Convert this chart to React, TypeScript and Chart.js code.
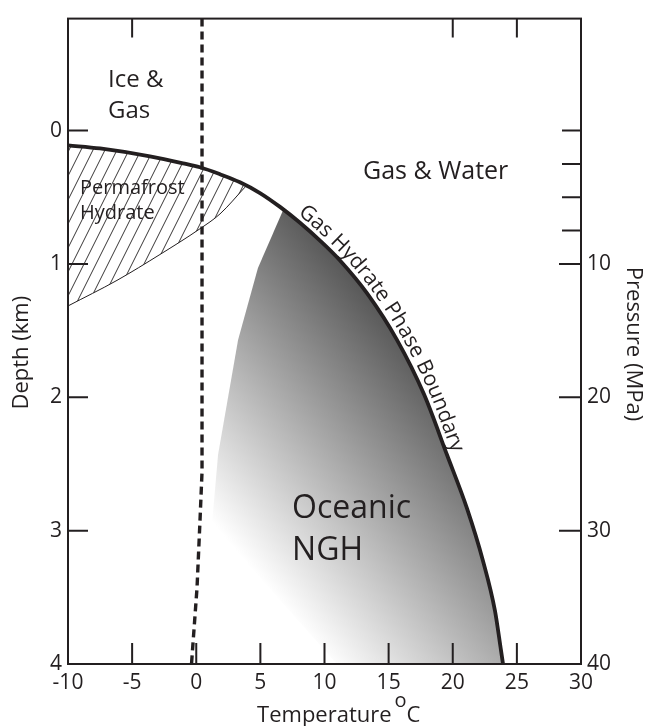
import React, { useEffect, useRef } from 'react';
import { Chart, registerables } from 'chart.js';

Chart.register(...registerables);

// ---------------- data ----------------
const tempMin = -10;
const tempMax = 30;
const depthMin = -0.84;
const depthMax = 4;
const pressurePerKm = 10;

const tempTicks = [-10, -5, 0, 5, 10, 15, 20, 25, 30];
const tempTopTicks = [-5, 20, 25];
const depthTicks = [0, 1, 2, 3, 4];
const pressureTicks = [10, 20, 30, 40];
const pressureMinorTicks = [0, 2.5, 5, 7.5];

// Gas hydrate phase boundary: temperature (°C) vs depth (km)
const boundaryT = [-10, -7.5, -3.61, -1.03, 0.29, 1.85, 3.41, 4.97, 6.53, 8.09, 9.65, 11.21, 13.31, 15.65, 17.76, 19.55, 21.11, 22.36, 23.29, 23.76, 23.92];
const boundaryD = [0.11, 0.134, 0.193, 0.245, 0.275, 0.327, 0.387, 0.468, 0.572, 0.691, 0.825, 0.974, 1.219, 1.569, 1.978, 2.431, 2.833, 3.227, 3.599, 3.896, 4.0];

// Base of permafrost hydrate zone
const permafrostBaseT = [-10, -6.18, -2.83, 0.29, 1.85, 3.8];
const permafrostBaseD = [1.315, 1.123, 0.929, 0.736, 0.625, 0.424];

// 0 °C (ice) line
const freezingT = [0.45, 0.45, 0.29, 0.06, -0.25, -0.37];
const freezingD = [-0.84, 2.56, 2.93, 3.43, 3.84, 4.0];

// Left / lower edge of the oceanic NGH zone
const oceanicEdgeT = [6.76, 4.81, 3.26, 1.7, 1.23, 10.97];
const oceanicEdgeD = [0.6, 1.03, 1.57, 2.43, 2.95, 4.0];

const boundaryLabel = 'Gas Hydrate Phase Boundary';

// ---------------- styles / layout ----------------
const FONT = "'Open Sans', 'DejaVu Sans', sans-serif";
const INK = '#231f20';
const W = 647;
const H = 726;

const shadeDark = { t: 8.64, d: 0.617, color: '#555555' };
const shadeLight = { t: -7.58, d: 1.92, color: '#ffffff' };

const regionLabels = [
  { lines: ['Ice &', 'Gas'], t: -6.88, d: [-0.327, -0.097], size: 24 },
  { lines: ['Gas & Water'], t: 13.0, d: [0.364], size: 25 },
  { lines: ['Permafrost', 'Hydrate'], t: -9.06, d: [0.476, 0.662], size: 20 },
  { lines: ['Oceanic', 'NGH'], t: 7.47, d: [2.907, 3.219], size: 32 },
];

const boundaryLabelStartT = 7.6;
const boundaryLabelOffset = 5.5;
const boundaryLabelSize = 21;

const pts = (xs: number[], ys: number[]) => xs.map((x, i) => ({ x, y: ys[i] }));

function makeHatch(): CanvasPattern | string {
  const pc = document.createElement('canvas');
  pc.width = 12;
  pc.height = 24;
  const g = pc.getContext('2d');
  if (!g) return 'rgba(0,0,0,0)';
  g.strokeStyle = INK;
  g.lineWidth = 0.9;
  for (const c of [0, 24, 48]) {
    g.beginPath();
    g.moveTo((c - 26) / 2, 26);
    g.lineTo((c + 2) / 2, -2);
    g.stroke();
  }
  const p = g.createPattern(pc, 'repeat');
  return p || 'rgba(0,0,0,0)';
}

const decorPlugin = {
  id: 'phaseDecor',
  afterDatasetsDraw(chart: any) {
    const { ctx, chartArea: a, scales } = chart;
    const xs = scales.x;
    const ys = scales.y;
    const ps = scales.y2;
    ctx.save();
    ctx.strokeStyle = INK;
    ctx.fillStyle = INK;
    ctx.lineCap = 'butt';
    ctx.lineWidth = 2;

    // inward tick marks
    ctx.beginPath();
    for (const t of tempTicks) {
      if (t === tempMin || t === tempMax) continue;
      const px = xs.getPixelForValue(t);
      ctx.moveTo(px, a.bottom);
      ctx.lineTo(px, a.bottom - 21);
    }
    for (const t of tempTopTicks) {
      const px = xs.getPixelForValue(t);
      ctx.moveTo(px, a.top);
      ctx.lineTo(px, a.top + 19);
    }
    for (const d of depthTicks) {
      if (d === depthMax) continue;
      const py = ys.getPixelForValue(d);
      ctx.moveTo(a.left, py);
      ctx.lineTo(a.left + 20, py);
    }
    for (const p of pressureTicks) {
      if (p === depthMax * pressurePerKm) continue;
      const py = ps.getPixelForValue(p);
      ctx.moveTo(a.right, py);
      ctx.lineTo(a.right - 22, py);
    }
    for (const p of pressureMinorTicks) {
      const py = ps.getPixelForValue(p);
      ctx.moveTo(a.right, py);
      ctx.lineTo(a.right - 19, py);
    }
    ctx.stroke();

    // frame
    ctx.strokeRect(a.left, a.top, a.right - a.left, a.bottom - a.top);

    // region labels
    ctx.textAlign = 'left';
    ctx.textBaseline = 'alphabetic';
    for (const lab of regionLabels) {
      ctx.font = `${lab.size}px ${FONT}`;
      lab.lines.forEach((line, i) => {
        ctx.fillText(line, xs.getPixelForValue(lab.t), ys.getPixelForValue(lab.d[i]));
      });
    }

    // curved label along the phase boundary (follows the drawn curve)
    const meta = chart.getDatasetMeta(0);
    const el = meta.data as any[];
    const path: { x: number; y: number }[] = [];
    for (let i = 0; i < el.length - 1; i++) {
      const p0 = el[i];
      const p1 = el[i + 1];
      const c1x = p0.cp2x ?? p0.x;
      const c1y = p0.cp2y ?? p0.y;
      const c2x = p1.cp1x ?? p1.x;
      const c2y = p1.cp1y ?? p1.y;
      const N = 24;
      for (let k = 0; k < N; k++) {
        const t = k / N;
        const u = 1 - t;
        path.push({
          x: u * u * u * p0.x + 3 * u * u * t * c1x + 3 * u * t * t * c2x + t * t * t * p1.x,
          y: u * u * u * p0.y + 3 * u * u * t * c1y + 3 * u * t * t * c2y + t * t * t * p1.y,
        });
      }
    }
    const last = el[el.length - 1];
    path.push({ x: last.x, y: last.y });
    const cum = [0];
    for (let i = 1; i < path.length; i++) {
      cum.push(cum[i - 1] + Math.hypot(path[i].x - path[i - 1].x, path[i].y - path[i - 1].y));
    }
    const startPx = xs.getPixelForValue(boundaryLabelStartT);
    let startIdx = path.findIndex((p) => p.x >= startPx);
    if (startIdx < 0) startIdx = 0;
    let s = cum[startIdx];
    const at = (sv: number) => {
      let j = 0;
      while (j < cum.length - 2 && cum[j + 1] < sv) j++;
      const seg = cum[j + 1] - cum[j] || 1;
      const f = (sv - cum[j]) / seg;
      const dx = path[j + 1].x - path[j].x;
      const dy = path[j + 1].y - path[j].y;
      return { x: path[j].x + dx * f, y: path[j].y + dy * f, ang: Math.atan2(dy, dx) };
    };
    ctx.font = `${boundaryLabelSize}px ${FONT}`;
    ctx.textAlign = 'center';
    for (const ch of boundaryLabel) {
      const w = ctx.measureText(ch).width;
      const p = at(s + w / 2);
      ctx.save();
      ctx.translate(p.x, p.y);
      ctx.rotate(p.ang);
      ctx.fillText(ch, 0, -boundaryLabelOffset);
      ctx.restore();
      s += w;
    }

    // axis titles
    ctx.font = `22px ${FONT}`;
    ctx.textAlign = 'center';
    ctx.save();
    ctx.translate(a.left - 40.5, ys.getPixelForValue(1.665));
    ctx.rotate(-Math.PI / 2);
    ctx.fillText('Depth (km)', 0, 0);
    ctx.restore();

    ctx.save();
    ctx.translate(a.right + 46, ps.getPixelForValue(16.0));
    ctx.rotate(Math.PI / 2);
    ctx.fillText('Pressure (MPa)', 0, 0);
    ctx.restore();

    ctx.textAlign = 'left';
    const tx = xs.getPixelForValue(4.74);
    const ty = a.bottom + 58;
    ctx.font = `22px ${FONT}`;
    ctx.fillText('Temperature', tx, ty);
    let cx = tx + ctx.measureText('Temperature').width + 3;
    ctx.font = `20px ${FONT}`;
    ctx.fillText('o', cx, ty - 15);
    cx += ctx.measureText('o').width;
    ctx.font = `22px ${FONT}`;
    ctx.fillText('C', cx, ty);

    ctx.restore();
  },
};

export default function App() {
  const ref = useRef<HTMLCanvasElement | null>(null);

  useEffect(() => {
    if (!ref.current) return;
    const hatch = makeHatch();

    const boundaryPts = pts(boundaryT, boundaryD);
    const oceanicPts = [
      ...pts(oceanicEdgeT, oceanicEdgeD),
      ...boundaryPts.filter((p) => p.x > oceanicEdgeT[0]).reverse(),
    ];

    const tickFont = { family: FONT, size: 21 };

    const chart = new Chart(ref.current, {
      type: 'line',
      data: {
        datasets: [
          {
            label: 'Gas hydrate phase boundary',
            data: boundaryPts,
            borderColor: INK,
            borderWidth: 3.8,
            cubicInterpolationMode: 'monotone',
            pointRadius: 0,
            fill: false,
            order: 1,
          },
          {
            label: 'Permafrost hydrate base',
            data: pts(permafrostBaseT, permafrostBaseD),
            borderColor: INK,
            borderWidth: 1,
            cubicInterpolationMode: 'monotone',
            pointRadius: 0,
            backgroundColor: hatch as any,
            fill: { target: 0, above: hatch as any, below: hatch as any },
            order: 3,
          },
          {
            label: '0 °C',
            data: pts(freezingT, freezingD),
            borderColor: INK,
            borderWidth: 3.4,
            borderDash: [8, 5],
            tension: 0,
            pointRadius: 0,
            fill: false,
            order: 2,
          },
          {
            label: 'Oceanic NGH',
            data: oceanicPts,
            borderColor: 'rgba(0,0,0,0)',
            borderWidth: 0,
            tension: 0,
            pointRadius: 0,
            fill: 'shape',
            backgroundColor: (c: any) => {
              const ch = c.chart;
              const { ctx, chartArea, scales } = ch;
              if (!chartArea || !scales.x || !scales.y) return 'rgba(0,0,0,0)';
              const g = ctx.createLinearGradient(
                scales.x.getPixelForValue(shadeDark.t),
                scales.y.getPixelForValue(shadeDark.d),
                scales.x.getPixelForValue(shadeLight.t),
                scales.y.getPixelForValue(shadeLight.d)
              );
              g.addColorStop(0, shadeDark.color);
              g.addColorStop(1, shadeLight.color);
              return g;
            },
            order: 4,
          },
        ] as any,
      },
      options: {
        animation: false,
        responsive: false,
        devicePixelRatio: 1,
        events: [],
        layout: { autoPadding: false, padding: { top: 13, left: 0, right: 0, bottom: 0 } } as any,
        plugins: { legend: { display: false }, tooltip: { enabled: false }, title: { display: false } },
        scales: {
          x: {
            type: 'linear',
            position: 'bottom',
            min: tempMin,
            max: tempMax,
            afterBuildTicks: (s: any) => {
              s.ticks = tempTicks.map((v) => ({ value: v }));
            },
            afterFit: (s: any) => {
              s.height = 62;
            },
            grid: { display: false, drawTicks: false },
            border: { display: false },
            ticks: {
              font: tickFont,
              color: INK,
              padding: 6,
              maxRotation: 0,
              autoSkip: false,
              callback: (v: any) => String(v),
            },
          },
          y: {
            type: 'linear',
            position: 'left',
            reverse: true,
            min: depthMin,
            max: depthMax,
            afterBuildTicks: (s: any) => {
              s.ticks = depthTicks.map((v) => ({ value: v }));
            },
            afterFit: (s: any) => {
              s.width = 68;
            },
            grid: { display: false, drawTicks: false },
            border: { display: false },
            ticks: { font: tickFont, color: INK, padding: 6, autoSkip: false, callback: (v: any) => String(v) },
          },
          y2: {
            type: 'linear',
            position: 'right',
            reverse: true,
            min: depthMin * pressurePerKm,
            max: depthMax * pressurePerKm,
            afterBuildTicks: (s: any) => {
              s.ticks = pressureTicks.map((v) => ({ value: v }));
            },
            afterFit: (s: any) => {
              s.width = 66;
            },
            grid: { display: false, drawTicks: false },
            border: { display: false },
            ticks: { font: tickFont, color: INK, padding: 6, autoSkip: false, callback: (v: any) => String(v) },
          },
        },
      } as any,
      plugins: [decorPlugin],
    });
    return () => chart.destroy();
  }, []);

  return (
    <div style={{ position: 'fixed', left: 0, top: 0, width: W, height: H, background: '#fff' }}>
      <canvas ref={ref} width={W} height={H} style={{ display: 'block', width: W, height: H }} />
    </div>
  );
}
